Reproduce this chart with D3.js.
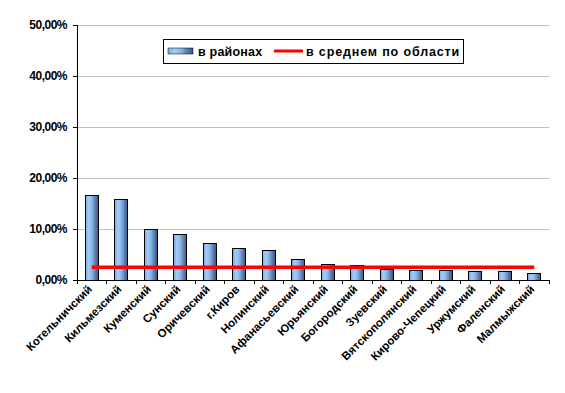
<!DOCTYPE html>
<html><head><meta charset="utf-8">
<script src="https://cdn.jsdelivr.net/npm/d3@7"></script>
<style>body{margin:0;background:#fff}svg{display:block}text{font-family:"Liberation Sans",Arial,sans-serif;font-weight:bold}</style>
</head><body>
<script>
const categories = ["Котельничский","Кильмезский","Куменский","Сунский","Оричевский","г.Киров","Нолинский","Афанасьевский","Юрьянский","Богородский","Зуевский","Вятскополянский","Кирово-Чепецкий","Уржумский","Фаленский","Малмыжский"];
const districtValues = [0.166,0.158,0.099,0.0895,0.072,0.062,0.058,0.0405,0.031,0.029,0.021,0.019,0.019,0.017,0.017,0.0125];
const regionAverage = [0.025];
const yTicks = [0,0.1,0.2,0.3,0.4,0.5];
const seriesNames = ["в районах","в среднем по области"];

const W=565,H=393;
const svg=d3.select("body").append("svg").attr("width",W).attr("height",H);
const m={l:77,r:16,t:25,b:113};
const x=d3.scaleBand().domain(categories).range([m.l,W-m.r]).paddingInner(0.56).paddingOuter(0.28);
const xb=d3.scaleBand().domain(categories).range([m.l,W-m.r]);
const y=d3.scaleLinear().domain([0,0.5]).range([H-m.b,m.t]);
const fmt=v=>d3.format(".2f")(v*100).replace(".",",")+"%";

const defs=svg.append("defs");
const g=defs.append("linearGradient").attr("id","bg").attr("x1","0").attr("x2","1").attr("y1","0").attr("y2","0");
[[0,"#7fa6d8"],[0.25,"#9fcdfb"],[0.5,"#8ab6e6"],[0.8,"#5478aa"],[1,"#3a5682"]].forEach(([o,c])=>g.append("stop").attr("offset",o).attr("stop-color",c));

// gridlines
svg.append("g").selectAll("line").data(yTicks.slice(1)).join("line")
 .attr("x1",m.l).attr("x2",W-m.r).attr("y1",d=>y(d)).attr("y2",d=>y(d))
 .attr("stroke","#c0c0c0").attr("stroke-width",1).attr("shape-rendering","crispEdges");

// bars
svg.append("g").selectAll("rect").data(districtValues).join("rect")
 .attr("x",(d,i)=>x(categories[i])).attr("width",x.bandwidth())
 .attr("y",d=>y(d)).attr("height",d=>y(0)-y(d))
 .attr("fill","url(#bg)").attr("stroke","#000").attr("stroke-width",1).attr("shape-rendering","crispEdges");

// average line
const avg=categories.map(c=>({c,v:regionAverage[0]}));
svg.append("path").datum(avg)
 .attr("d",d3.line().x(d=>xb(d.c)+xb.bandwidth()/2).y(d=>y(d.v)))
 .attr("stroke","#ff0000").attr("stroke-width",3.5).attr("fill","none");

// y axis
const ya=svg.append("g").attr("transform",`translate(${m.l},0)`)
 .call(d3.axisLeft(y).tickValues(yTicks).tickFormat(fmt).tickSize(4).tickPadding(6));
ya.selectAll("path,line").attr("stroke","#000").attr("shape-rendering","crispEdges");
ya.selectAll("text").attr("font-size","12px").attr("fill","#000").style("font-family","'Liberation Sans',Arial,sans-serif").style("font-weight","bold").attr("letter-spacing","-0.5");

// x axis
const xa=svg.append("g").attr("transform",`translate(0,${y(0)})`);
xa.append("line").attr("x1",m.l).attr("x2",W-m.r).attr("stroke","#000").attr("shape-rendering","crispEdges");
const bounds=categories.map(c=>xb(c)).concat([W-m.r]);
xa.selectAll("line.t").data(bounds).join("line").attr("class","t")
 .attr("x1",d=>d).attr("x2",d=>d).attr("y1",0).attr("y2",4).attr("stroke","#000").attr("shape-rendering","crispEdges");
xa.selectAll("text").data(categories).join("text")
 .attr("transform",d=>`translate(${xb(d)+xb.bandwidth()/2+1},10) rotate(-45)`)
 .attr("text-anchor","end").attr("font-size","11.5px").attr("fill","#000").text(d=>d);

// legend
const lg=svg.append("g");
lg.append("rect").attr("x",163.5).attr("y",39.5).attr("width",300).attr("height",24).attr("fill","#fff").attr("stroke","#000");
lg.append("rect").attr("x",168).attr("y",48).attr("width",25).attr("height",6).attr("fill","url(#bg)").attr("stroke","#000").attr("stroke-width",0.5);
lg.append("text").attr("x",198).attr("y",56).attr("font-size","12.5px").attr("letter-spacing","0.2").text(seriesNames[0]);
lg.append("line").attr("x1",274).attr("x2",303).attr("y1",51).attr("y2",51).attr("stroke","#ff0000").attr("stroke-width",3);
lg.append("text").attr("x",306).attr("y",56).attr("font-size","12.5px").attr("letter-spacing","0.85").text(seriesNames[1]);
</script>
</body></html>
